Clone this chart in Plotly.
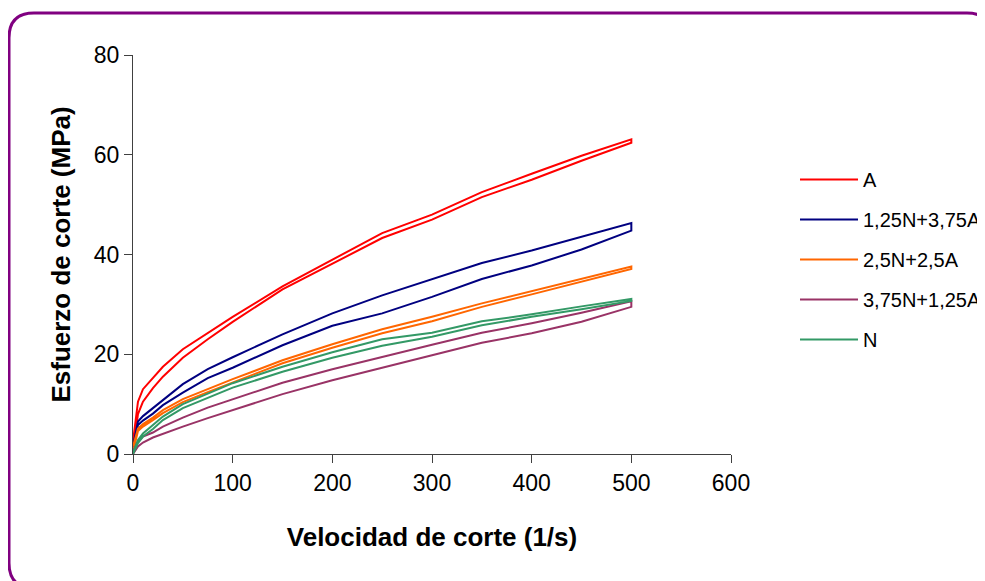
import plotly.graph_objects as go

# Shear rate grid (1/s)
rate = [0, 5, 10, 20, 30, 50, 75, 100, 150, 200, 250, 300, 350, 400, 450, 500]

series_names = ["A", "1,25N+3,75A", "2,5N+2,5A", "3,75N+1,25A", "N"]
colors = ["#FF0000", "#000080", "#FF6600", "#993366", "#339966"]

# upper (ascending) branch and lower (descending) branch of each hysteresis loop
A_up   = [2.5, 10.5, 13.0, 15.2, 17.5, 21.0, 24.3, 27.5, 33.6, 39.0, 44.3, 48.0, 52.5, 56.2, 59.8, 63.1]
A_dn   = [1.0, 8.0, 10.5, 13.2, 15.5, 19.3, 23.0, 26.5, 33.0, 38.2, 43.3, 47.0, 51.5, 55.0, 58.8, 62.4]
B_up   = [1.5, 6.5, 7.6, 9.2, 10.8, 14.0, 17.0, 19.4, 24.0, 28.2, 31.8, 35.0, 38.3, 40.8, 43.6, 46.3]
B_dn   = [0.5, 5.8, 6.7, 8.1, 9.8, 12.3, 15.2, 17.3, 21.8, 25.7, 28.2, 31.5, 35.1, 37.8, 41.0, 44.8]
C_up   = [1.5, 5.1, 6.0, 7.3, 8.8, 11.0, 13.0, 15.0, 18.8, 22.0, 25.0, 27.5, 30.2, 32.7, 35.1, 37.6]
C_dn   = [0.5, 4.6, 5.5, 6.8, 8.2, 10.4, 12.4, 14.4, 18.2, 21.3, 24.2, 26.6, 29.5, 32.0, 34.5, 37.1]
D_up   = [0.5, 2.5, 3.5, 4.3, 5.5, 7.3, 9.3, 11.0, 14.3, 17.0, 19.5, 21.9, 24.3, 26.2, 28.3, 30.6]
D_dn   = [0.0, 1.5, 2.3, 3.3, 4.1, 5.5, 7.2, 8.9, 12.0, 14.8, 17.3, 19.8, 22.3, 24.2, 26.5, 29.5]
N_up   = [0.3, 2.8, 4.1, 5.8, 7.5, 10.0, 12.1, 14.2, 17.5, 20.4, 23.0, 24.3, 26.6, 28.0, 29.6, 31.1]
N_dn   = [0.0, 2.2, 3.5, 5.0, 6.8, 9.2, 11.2, 13.3, 16.5, 19.3, 21.7, 23.5, 25.8, 27.5, 29.0, 30.7]

ups = [A_up, B_up, C_up, D_up, N_up]
dns = [A_dn, B_dn, C_dn, D_dn, N_dn]

x_ticks = [0, 100, 200, 300, 400, 500, 600]
y_ticks = [0, 20, 40, 60, 80]

FONT = "Arial, Liberation Sans, sans-serif"

fig = go.Figure()
for i, name in enumerate(series_names):
    xs = rate + rate[::-1]
    ys = ups[i] + dns[i][::-1]
    fig.add_trace(go.Scatter(
        x=xs, y=ys, mode="lines", name=name,
        line=dict(color=colors[i], width=2),
        legendgroup=name,
    ))

# page is offset by the 8px body margin; work in page pixels
OFF = 8
W, H = 985 - OFF, 581 - OFF
L0, R0, T0, B0 = 133.0, 731.0, 55.0, 454.0   # plot area in page pixels
def px(x):
    return (x - L0) / (R0 - L0)
def py(y):
    return (B0 - y) / (B0 - T0)

bl, bt, br, bb, r = 9, 13, 992, 588, 25
path = (f"M {px(bl)},{py(bt+r)} Q {px(bl)},{py(bt)} {px(bl+r)},{py(bt)} "
        f"L {px(br-r)},{py(bt)} Q {px(br)},{py(bt)} {px(br)},{py(bt+r)} "
        f"L {px(br)},{py(bb-r)} Q {px(br)},{py(bb)} {px(br-r)},{py(bb)} "
        f"L {px(bl+r)},{py(bb)} Q {px(bl)},{py(bb)} {px(bl)},{py(bb-r)} Z")

fig.update_layout(
    width=W, height=H,
    margin=dict(l=L0 - OFF, r=W - (R0 - OFF), t=T0 - OFF, b=H - (B0 - OFF), autoexpand=False),
    paper_bgcolor="white", plot_bgcolor="white",
    font=dict(family=FONT, color="black", size=23),
    showlegend=True,
    legend=dict(
        x=px(795), y=py(160), xanchor="left", yanchor="top",
        font=dict(family=FONT, size=20, color="black"),
        bgcolor="rgba(0,0,0,0)", borderwidth=0,
        tracegroupgap=11, itemwidth=58, traceorder="grouped",
    ),
    shapes=[dict(type="path", xref="paper", yref="paper", path=path,
                 line=dict(color="#800080", width=3), layer="above")],
    xaxis=dict(
        range=[0, 600], tickvals=x_ticks, ticktext=[str(v) for v in x_ticks],
        showgrid=False, zeroline=False, showline=True, linecolor="#404040", linewidth=1,
        ticks="outside", ticklen=8, tickcolor="#404040",
        tickfont=dict(family=FONT, size=23),
        title=dict(text="<b>Velocidad de corte (1/s)</b>", font=dict(family=FONT, size=26), standoff=33),
        automargin=False,
    ),
    yaxis=dict(
        range=[0, 80], tickvals=y_ticks, ticktext=[str(v) for v in y_ticks],
        showgrid=False, zeroline=False, showline=True, linecolor="#404040", linewidth=1,
        ticks="outside", ticklen=8, tickcolor="#404040",
        tickfont=dict(family=FONT, size=23),
        title=dict(text="<b>Esfuerzo de corte (MPa)</b>", font=dict(family=FONT, size=26), standoff=15),
        automargin=False,
    ),
)

fig.write_html("out.html")
